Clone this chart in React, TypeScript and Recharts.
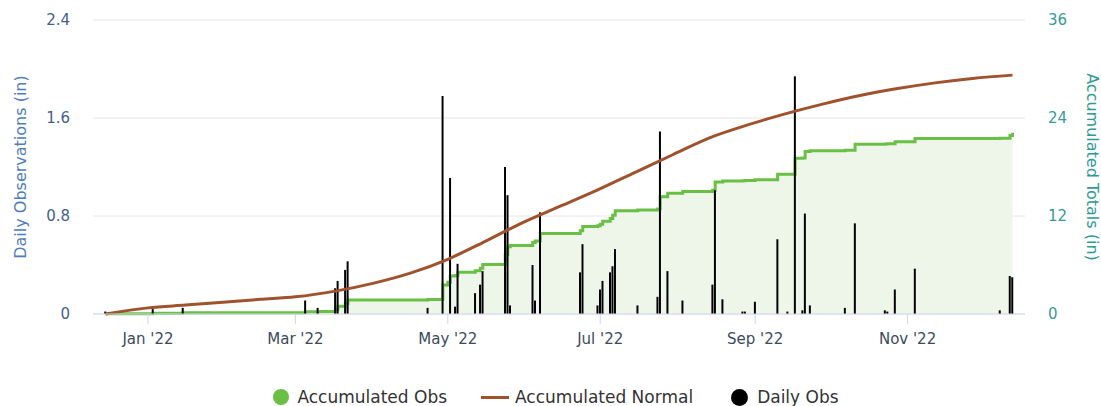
import React from 'react';
import { ComposedChart, Area, Line, Bar, XAxis, YAxis, CartesianGrid } from 'recharts';

// day offsets are counted from 1 Jan 2022
const DAY0 = Date.UTC(2022, 0, 1);
const toDay = (s: string) => (Date.parse(s + 'T00:00:00Z') - DAY0) / 86400000;

// daily observations (in), left axis
const dailyObs: [string, number][] = [
  ['2021-12-15', 0.02], ['2022-01-03', 0.04], ['2022-01-15', 0.05],
  ['2022-03-05', 0.11], ['2022-03-10', 0.05], ['2022-03-17', 0.21], ['2022-03-18', 0.27],
  ['2022-03-21', 0.36], ['2022-03-22', 0.43], ['2022-04-23', 0.05], ['2022-04-29', 1.78],
  ['2022-05-02', 1.11], ['2022-05-04', 0.06], ['2022-05-05', 0.41], ['2022-05-12', 0.17],
  ['2022-05-14', 0.24], ['2022-05-15', 0.35], ['2022-05-24', 1.2], ['2022-05-25', 0.97],
  ['2022-05-26', 0.07], ['2022-06-04', 0.4], ['2022-06-05', 0.11], ['2022-06-07', 0.83],
  ['2022-06-23', 0.34], ['2022-06-24', 0.57], ['2022-06-30', 0.07], ['2022-07-01', 0.2],
  ['2022-07-02', 0.27], ['2022-07-05', 0.34], ['2022-07-06', 0.39], ['2022-07-07', 0.53],
  ['2022-07-16', 0.07], ['2022-07-24', 0.14], ['2022-07-25', 1.49], ['2022-07-28', 0.35],
  ['2022-08-03', 0.11], ['2022-08-15', 0.24], ['2022-08-16', 1.01], ['2022-08-19', 0.12],
  ['2022-08-27', 0.02], ['2022-08-28', 0.02], ['2022-09-01', 0.1], ['2022-09-10', 0.61],
  ['2022-09-14', 0.02], ['2022-09-17', 1.94], ['2022-09-20', 0.03], ['2022-09-21', 0.82],
  ['2022-09-23', 0.07], ['2022-10-07', 0.05], ['2022-10-11', 0.74], ['2022-10-23', 0.03],
  ['2022-10-24', 0.02], ['2022-10-27', 0.2], ['2022-11-04', 0.37], ['2022-12-08', 0.03],
  ['2022-12-12', 0.31], ['2022-12-13', 0.3],
];

// accumulated observed total (in) after each change, right axis
const accumulatedObs: [string, number][] = [
  ['2021-12-15', 0.02], ['2022-01-03', 0.08], ['2022-01-15', 0.15], ['2022-03-05', 0.27],
  ['2022-03-10', 0.32], ['2022-03-17', 0.55], ['2022-03-18', 0.95], ['2022-03-21', 1.3],
  ['2022-03-22', 1.72], ['2022-04-23', 1.78], ['2022-04-29', 3.55], ['2022-05-01', 3.9],
  ['2022-05-02', 4.65], ['2022-05-04', 4.72], ['2022-05-05', 5.1], ['2022-05-12', 5.3],
  ['2022-05-14', 5.6], ['2022-05-15', 6.05], ['2022-05-24', 7.3], ['2022-05-25', 8.25],
  ['2022-05-26', 8.4], ['2022-06-04', 8.75], ['2022-06-05', 8.95], ['2022-06-07', 9.85],
  ['2022-06-23', 10.2], ['2022-06-24', 10.7], ['2022-06-30', 10.8], ['2022-07-01', 11.0],
  ['2022-07-02', 11.35], ['2022-07-05', 11.7], ['2022-07-06', 12.1], ['2022-07-07', 12.65],
  ['2022-07-16', 12.72], ['2022-07-24', 12.85], ['2022-07-25', 14.35], ['2022-07-28', 14.8],
  ['2022-08-03', 15.0], ['2022-08-15', 15.15], ['2022-08-16', 16.15], ['2022-08-19', 16.3],
  ['2022-08-27', 16.32], ['2022-08-28', 16.34], ['2022-09-01', 16.45], ['2022-09-10', 17.1],
  ['2022-09-14', 17.12], ['2022-09-17', 19.06], ['2022-09-20', 19.1], ['2022-09-21', 19.9],
  ['2022-09-23', 20.0], ['2022-10-07', 20.05], ['2022-10-11', 20.8], ['2022-10-23', 20.83],
  ['2022-10-24', 20.85], ['2022-10-27', 21.1], ['2022-11-04', 21.5], ['2022-12-08', 21.53],
  ['2022-12-12', 21.85], ['2022-12-13', 22.2],
];

// accumulated normal (in), right axis
const accumulatedNormal: [string, number][] = [
  ['2021-12-15', 0], ['2022-01-01', 0.75], ['2022-01-16', 1.1], ['2022-01-31', 1.45],
  ['2022-02-15', 1.8], ['2022-03-01', 2.1], ['2022-03-17', 2.8], ['2022-04-01', 3.75],
  ['2022-04-16', 5.0], ['2022-05-01', 6.7], ['2022-05-16', 8.9], ['2022-05-31', 11.2],
  ['2022-06-15', 13.2], ['2022-06-30', 15.2], ['2022-07-15', 17.35], ['2022-07-30', 19.5],
  ['2022-08-14', 21.6], ['2022-08-29', 23.15], ['2022-09-13', 24.5], ['2022-09-28', 25.7],
  ['2022-10-13', 26.75], ['2022-10-28', 27.6], ['2022-11-12', 28.3], ['2022-11-27', 28.85],
  ['2022-12-13', 29.25],
];

const monthTicks = ['2022-01-01', '2022-03-01', '2022-05-01', '2022-07-01', '2022-09-01', '2022-11-01'];
const monthLabels = ["Jan '22", "Mar '22", "May '22", "Jul '22", "Sep '22", "Nov '22"];
const leftTicks = [0, 0.8, 1.6, 2.4];
const rightTicks = [0, 12, 24, 36];

const GREEN = '#6abf45';
const BROWN = '#a0522d';
const FONT = '"DejaVu Sans", sans-serif';

const toRows = (list: [string, number][]) => list.map(([date, v]) => ({ d: toDay(date), v }));

export default function App() {
  const dailyRows = toRows(dailyObs);
  const accRows = toRows(accumulatedObs);
  const normalRows = toRows(accumulatedNormal);
  const tickDays = monthTicks.map(toDay);

  return (
    <div style={{ position: 'absolute', left: 0, top: 0, width: 1101, height: 406, background: '#fff', fontFamily: FONT }}>
      <ComposedChart width={1101} height={406} data={dailyRows} margin={{ top: 20, right: 0, bottom: 52, left: 0 }}>
        <CartesianGrid yAxisId="left" vertical={false} stroke="#e6e6e6" />
        <XAxis
          dataKey="d"
          type="number"
          domain={[-22, 351]}
          allowDataOverflow
          ticks={tickDays}
          tickFormatter={(v: number) => monthLabels[tickDays.indexOf(v)] ?? ''}
          height={40}
          stroke="#ccd6eb"
          tickSize={10}
          tickMargin={9}
          tick={{ fill: '#3c4a5c', fontSize: 15, fontFamily: FONT }}
        />
        <YAxis
          yAxisId="left"
          domain={[0, 2.4]}
          ticks={leftTicks}
          width={93}
          axisLine={false}
          tickLine={false}
          tickSize={0}
          tickMargin={23}
          tick={{ fill: '#44608f', fontSize: 15, fontFamily: FONT }}
          label={{
            value: 'Daily Observations (in)',
            angle: -90,
            position: 'insideLeft',
            offset: 20,
            style: { textAnchor: 'middle', fill: '#4f7cbd', fontSize: 16, fontFamily: FONT },
          }}
        />
        <YAxis
          yAxisId="right"
          orientation="right"
          domain={[0, 36]}
          ticks={rightTicks}
          width={76}
          axisLine={false}
          tickLine={false}
          tickSize={0}
          tickMargin={23}
          tick={{ fill: '#3a9a9a', fontSize: 15, fontFamily: FONT }}
          label={{
            value: 'Accumulated Totals (in)',
            angle: 90,
            position: 'insideRight',
            offset: 8,
            style: { textAnchor: 'middle', fill: '#2e9a96', fontSize: 16, fontFamily: FONT },
          }}
        />
        <Area
          yAxisId="right"
          data={accRows}
          dataKey="v"
          type="stepAfter"
          stroke={GREEN}
          strokeWidth={3}
          fill="#eef6ea"
          fillOpacity={1}
          dot={false}
          activeDot={false}
          isAnimationActive={false}
        />
        <Line
          yAxisId="right"
          data={normalRows}
          dataKey="v"
          type="monotone"
          stroke={BROWN}
          strokeWidth={3}
          dot={false}
          activeDot={false}
          isAnimationActive={false}
        />
        <Bar yAxisId="left" dataKey="v" fill="#000" barSize={2} isAnimationActive={false} />
      </ComposedChart>

      <div
        style={{
          position: 'absolute',
          left: 0,
          top: 387,
          width: 1101,
          display: 'flex',
          justifyContent: 'center',
          alignItems: 'center',
          paddingLeft: 11,
          boxSizing: 'border-box',
          fontSize: 17,
          color: '#333',
        }}
      >
        <span style={{ width: 16, height: 16, borderRadius: 8, background: GREEN, marginRight: 8 }} />
        <span>Accumulated Obs</span>
        <span style={{ width: 28, height: 3, background: BROWN, marginLeft: 34, marginRight: 6 }} />
        <span>Accumulated Normal</span>
        <span style={{ width: 17, height: 17, borderRadius: 9, background: '#000', marginLeft: 38, marginRight: 9 }} />
        <span>Daily Obs</span>
      </div>
    </div>
  );
}
